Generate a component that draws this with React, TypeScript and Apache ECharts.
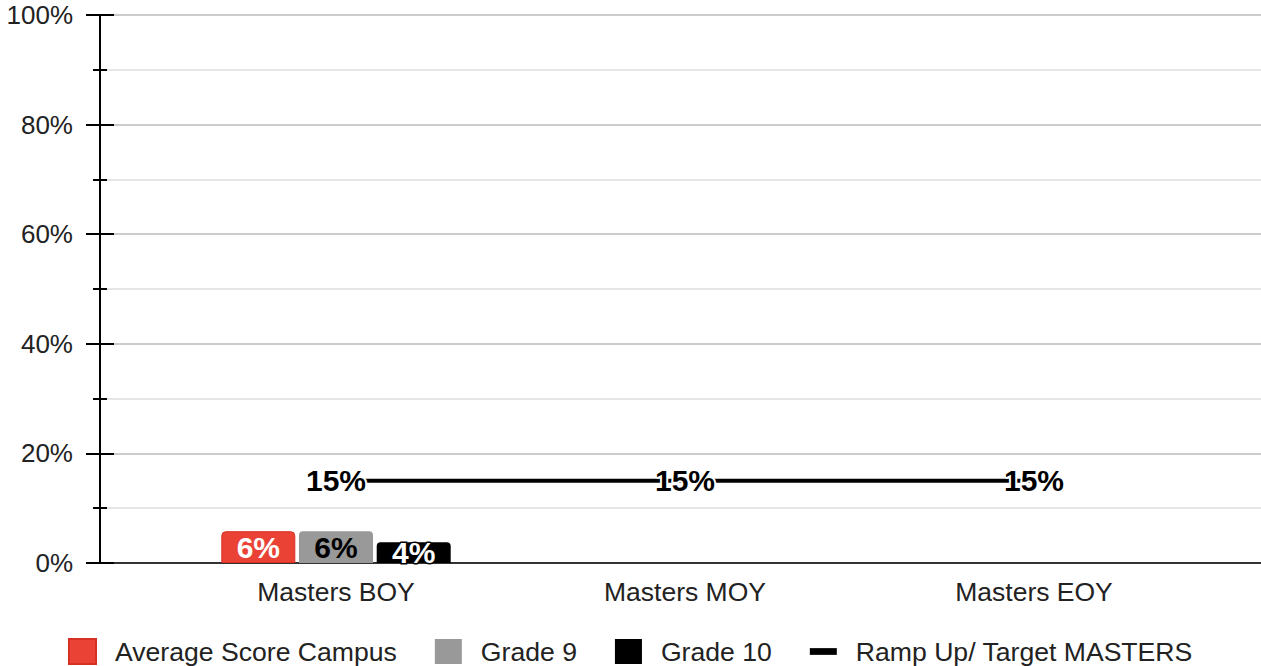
import React, { useEffect, useRef } from "react";
import * as echarts from "echarts";

const categories = ["Masters BOY", "Masters MOY", "Masters EOY"];
const averageCampus = [5.8, null, null];
const grade9 = [5.8, null, null];
const grade10 = [3.8, null, null];
const rampTarget = [15, 15, 15];
const yTicks = [0, 20, 40, 60, 80, 100];

const FONT = "'Liberation Sans', Arial, sans-serif";

export default function App() {
  const ref = useRef<HTMLDivElement>(null);
  useEffect(() => {
    if (!ref.current) return;
    const chart = echarts.init(ref.current, null, { renderer: "svg" });
    const pct = (v: number) => `${Math.round(v)}%`;
    const barLabel = (color: string, border: string) => ({
      show: true,
      position: "inside",
      fontFamily: FONT,
      fontWeight: "bold",
      fontSize: 30,
      color,
      textBorderColor: border,
      textBorderWidth: 3,
      formatter: (p: any) => (p.value == null ? "" : pct(p.value)),
    });
    chart.setOption({
      animation: false,
      textStyle: { fontFamily: FONT },
      grid: [
        { left: 100, right: 0, top: 15, bottom: 103 },
        { left: 161.5, right: 52.5, top: 15, bottom: 103 },
      ],
      xAxis: [
        {
          gridIndex: 0,
          type: "value",
          min: 0,
          max: 1,
          axisLine: { show: true, onZero: false, lineStyle: { color: "#333", width: 2 } },
          axisTick: { show: false },
          axisLabel: { show: false },
          splitLine: { show: false },
        },
        {
          gridIndex: 1,
          type: "category",
          data: categories,
          axisLine: { show: false },
          axisTick: { show: false },
          axisLabel: { fontSize: 26.5, color: "#222", margin: 15, fontFamily: FONT },
          splitLine: { show: false },
          z: 5,
        },
      ],
      yAxis: [
        {
          gridIndex: 0,
          type: "value",
          min: yTicks[0],
          max: yTicks[yTicks.length - 1],
          interval: 20,
          position: "left",
          axisLine: { show: true, lineStyle: { color: "#000", width: 2 } },
          axisTick: { show: true, length: 14, lineStyle: { color: "#000", width: 2 } },
          minorTick: { show: true, splitNumber: 2, length: 7, lineStyle: { color: "#000", width: 2 } },
          axisLabel: { fontSize: 26, color: "#222", margin: 27, formatter: (v: number) => `${v}%`, fontFamily: FONT },
          splitLine: { show: true, lineStyle: { color: "#cccccc", width: 2 } },
          minorSplitLine: { show: true, lineStyle: { color: "#e6e6e6", width: 2 } },
        },
        {
          gridIndex: 0,
          type: "value",
          min: yTicks[0],
          max: yTicks[yTicks.length - 1],
          interval: 20,
          position: "left",
          axisLine: { show: false },
          axisTick: { show: true, inside: true, length: 14, lineStyle: { color: "#000", width: 2 } },
          minorTick: { show: true, splitNumber: 2, length: 7, lineStyle: { color: "#000", width: 2 } },
          axisLabel: { show: false },
          splitLine: { show: false },
        },
        {
          gridIndex: 1,
          type: "value",
          min: 0,
          max: 100,
          show: false,
        },
      ],
      legend: {
        left: 63,
        top: 633,
        itemWidth: 27,
        itemHeight: 25,
        itemGap: 38,
        symbolKeepAspect: true,
        textStyle: { fontSize: 26.6, color: "#222", fontFamily: FONT, padding: [0, 0, 0, 14] },
        data: [
          { name: "Average Score Campus", icon: "rect" },
          { name: "Grade 9", icon: "rect" },
          { name: "Grade 10", icon: "rect" },
          { name: "Ramp Up/ Target MASTERS", icon: "path://M0,0 L28,0 L28,7 L0,7 Z" },
        ],
      },
      series: [
        {
          name: "Average Score Campus",
          type: "bar",
          xAxisIndex: 1,
          yAxisIndex: 2,
          data: averageCampus,
          barWidth: 74,
          barGap: "5%",
          itemStyle: { color: "#ea4335", borderColor: "#d93025", borderWidth: 1, borderRadius: [4, 4, 0, 0] },
          label: barLabel("#fff", "#ea4335"),
        },
        {
          name: "Grade 9",
          type: "bar",
          xAxisIndex: 1,
          yAxisIndex: 2,
          data: grade9,
          barWidth: 74,
          barGap: "5%",
          itemStyle: { color: "#999999", borderRadius: [4, 4, 0, 0] },
          label: barLabel("#000", "#999999"),
        },
        {
          name: "Grade 10",
          type: "bar",
          xAxisIndex: 1,
          yAxisIndex: 2,
          data: grade10,
          barWidth: 74,
          barGap: "5%",
          itemStyle: { color: "#000000", borderRadius: [4, 4, 0, 0] },
          label: barLabel("#fff", "#000"),
        },
        {
          name: "Ramp Up/ Target MASTERS",
          type: "line",
          xAxisIndex: 1,
          yAxisIndex: 2,
          data: rampTarget,
          symbol: "circle",
          symbolSize: 1,
          itemStyle: { color: "#000" },
          lineStyle: { color: "#000", width: 4 },
          label: {
            show: true,
            position: "inside",
            fontFamily: FONT,
            fontWeight: "bold",
            fontSize: 30,
            color: "#000",
            textBorderColor: "#fff",
            textBorderWidth: 4,
            formatter: (p: any) => pct(p.value),
          },
          z: 10,
        },
      ],
    });
    return () => chart.dispose();
  }, []);
  return (
    <div
      ref={ref}
      style={{ position: "absolute", left: 0, top: 0, width: 1261, height: 666, background: "#fff" }}
    />
  );
}
